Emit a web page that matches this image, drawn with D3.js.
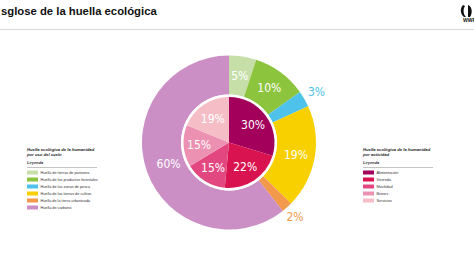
<!DOCTYPE html>
<html><head><meta charset="utf-8">
<script src="https://cdn.jsdelivr.net/npm/d3@7"></script>
<style>
html,body{margin:0;padding:0;background:#fff;overflow:hidden}
svg{display:block}
.lbl{font-family:"DejaVu Sans Condensed","DejaVu Sans",sans-serif;font-stretch:condensed;font-size:12px;}
.leg{font-family:"Liberation Sans",Arial,sans-serif;}
</style></head>
<body>
<script>
const title = "sglose de la huella ecológica";
const landCategories = ["Huella de tierras de pastoreo","Huella de los productos forestales","Huella de las zonas de pesca","Huella de las tierras de cultivo","Huella de la tierra urbanizada","Huella de carbono"];
const landValues = [5,10,3,19,2,60];
const landColors = ["#c6dfa9","#8dc43e","#4ec2ea","#f8d000","#f2994b","#cb8fc5"];
const actCategories = ["Alimentación","Vivienda","Movilidad","Bienes","Servicios"];
const actValues = [30,22,15,15,19];
const actColors = ["#a2005b","#d9134f","#e2477f","#ec91b1","#f5bec6"];

const W=474,H=266;
const svg=d3.select("body").append("svg").attr("width",W).attr("height",H);

// title
svg.append("text").attr("x",1).attr("y",15).attr("class","leg")
  .attr("font-size","11.3px").attr("font-weight","bold").attr("fill","#111").text(title);
svg.append("line").attr("x1",0).attr("x2",W).attr("y1",29.5).attr("y2",29.5).attr("stroke","#d8d8d8").attr("stroke-width",1);
// logo
const logo=svg.append("g").attr("transform","translate(467,11)");
logo.append("path").attr("d","M-4,-6 C-7,-3 -7,3 -3,6 L-1,6 C-4,3 -4,-2 -2,-5 Z M1,-6 C5,-5 6,2 3,6 L1,6 Z").attr("fill","#111");
svg.append("text").attr("x",463).attr("y",22).attr("class","leg").attr("font-size","5px").attr("font-weight","bold").attr("fill","#111").text("WWF");

const cx=229, cy=142.5;
const g=svg.append("g").attr("transform",`translate(${cx},${cy})`);
const pie=d3.pie().sort(null).value(d=>d);

const outerArcs=pie(landValues);
const outerArc=d3.arc().innerRadius(48).outerRadius(87);
g.selectAll("path.o").data(outerArcs).join("path").attr("class","o")
  .attr("d",outerArc).attr("fill",(d,i)=>landColors[i]);

// white ring
g.append("circle").attr("r",48).attr("fill","#fff");

const innerArcs=pie(actValues);
const innerArc=d3.arc().innerRadius(0).outerRadius(45.5);
g.selectAll("path.i").data(innerArcs).join("path").attr("class","i")
  .attr("d",innerArc).attr("fill",(d,i)=>actColors[i]);

// outer labels
const outsideIdx={2:true,4:true};
const outerLabelR=[68,68,101,68,99,64];
g.selectAll("text.ol").data(outerArcs).join("text").attr("class","lbl")
  .attr("transform",(d,i)=>{const a=(d.startAngle+d.endAngle)/2, r=outerLabelR[i];return `translate(${Math.sin(a)*r},${-Math.cos(a)*r})`;})
  .attr("text-anchor","middle").attr("dy","0.36em")
  .attr("fill",(d,i)=>outsideIdx[i]?landColors[i]:"#fff")
  .text((d,i)=>landValues[i]+"%");

const innerLabelR=[30,29,30,30,29];
g.selectAll("text.il").data(innerArcs).join("text").attr("class","lbl")
  .attr("transform",(d,i)=>{const a=(d.startAngle+d.endAngle)/2, r=innerLabelR[i];return `translate(${Math.sin(a)*r},${-Math.cos(a)*r})`;})
  .attr("text-anchor","middle").attr("dy","0.36em")
  .attr("fill","#fff")
  .text((d,i)=>actValues[i]+"%");

// legends
function legend(x, titleLines, cats, colors, lineEnd){
  const lg=svg.append("g").attr("class","leg");
  titleLines.forEach((t,k)=>lg.append("text").attr("x",x).attr("y",151+k*4.5).attr("font-size","4.2px").attr("font-weight","bold").attr("font-style","italic").attr("fill","#222").text(t));
  lg.append("text").attr("x",x).attr("y",163.5).attr("font-size","4px").attr("font-weight","bold").attr("font-style","italic").attr("fill","#333").text("Leyenda");
  lg.append("line").attr("x1",x).attr("x2",lineEnd).attr("y1",167.5).attr("y2",167.5).attr("stroke","#888").attr("stroke-width",0.5);
  cats.forEach((c,i)=>{
    lg.append("rect").attr("x",x).attr("y",170.5+i*7).attr("width",11).attr("height",4).attr("fill",colors[i]);
    lg.append("text").attr("x",x+13.5).attr("y",173.8+i*7).attr("font-size","3.8px").attr("fill","#333").text(c);
  });
}
legend(27,["Huella ecológica de la humanidad","por uso del suelo"],landCategories,landColors,97);
legend(363,["Huella ecológica de la humanidad","por actividad"],actCategories,actColors,433);
</script>
</body></html>
